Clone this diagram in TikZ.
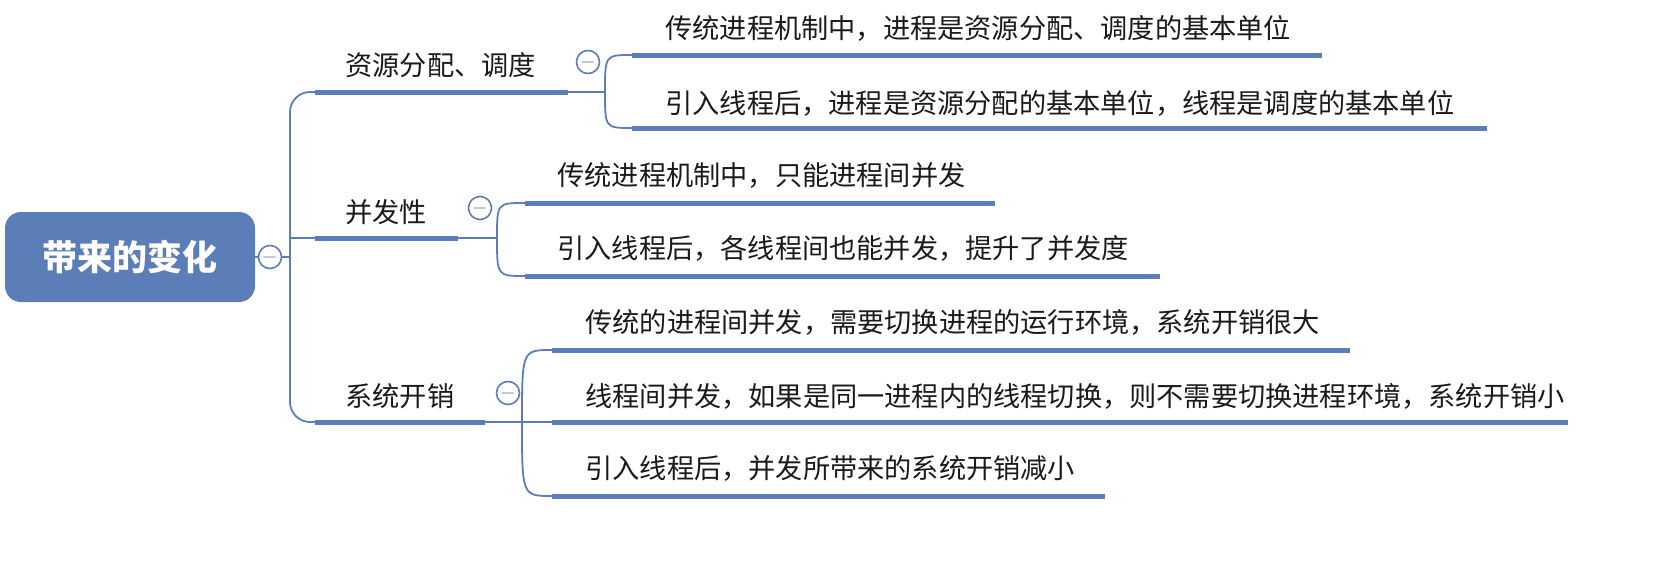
\documentclass[tikz,border=0pt]{standalone}
\usepackage{fontspec}
\setmainfont{Noto Sans CJK SC}
\definecolor{mapblue}{HTML}{5B7DB8}
\definecolor{txt}{HTML}{1A1A1A}
\begin{document}
\begin{tikzpicture}[
    x=0.5pt, y=-0.5pt,
    rootbox/.style={rectangle, rounded corners=8pt, fill=mapblue, text=white, font=\fontsize{17.5}{20}\selectfont\bfseries, minimum width=125pt, minimum height=45pt},
    fold/.style={circle, draw=mapblue, fill=white, line width=0.8pt, inner sep=0pt, minimum size=11.5pt, font=\fontsize{10}{10}\selectfont\color{mapblue}},
    bar/.style={mapblue, line width=2.5pt},
    link/.style={mapblue, line width=0.9pt},
    label/.style={anchor=west, text=txt, font=\fontsize{13.6}{15}\selectfont, inner sep=0pt}
]
\useasboundingbox (0,0) rectangle (1658,568);

% Root
\node[rootbox] (root) at (130,257) {带来的变化};
\node[fold] (f0) at (270,257) {$-$};
\draw[link] (root.east) -- (f0.west);

% Trunk
\coordinate (t0) at (290,257);
\draw[link] (f0.east) -- (t0);
\draw[link, rounded corners=10pt] (315,92) -| (t0) |- (315,422);
\draw[link] (t0) |- (315,238);

%==============================================================================
% Branch 1
%==============================================================================
\node[label] (b1) at (345,65) {资源分配、调度};
\draw[bar] (315,92) -- (568,92);
\node[fold] (f1) at (588,62) {$-$};
\coordinate (s1) at (605,92);
\draw[link] (568,92) -- (s1);
\node[label] (c11) at (665,28) {传统进程机制中，进程是资源分配、调度的基本单位};
\node[label] (c12) at (665,103) {引入线程后，进程是资源分配的基本单位，线程是调度的基本单位};
\draw[bar] (632,55) -- (1322,55);
\draw[bar] (632,128) -- (1487,128);
\draw[link] (s1) .. controls (605,55) .. (632,55);
\draw[link] (s1) .. controls (605,128) .. (632,128);

%==============================================================================
% Branch 2
%==============================================================================
\node[label] (b2) at (345,212) {并发性};
\draw[bar] (315,238) -- (458,238);
\node[fold] (f2) at (480,208) {$-$};
\coordinate (s2) at (497,238);
\draw[link] (458,238) -- (s2);
\node[label] (c21) at (557,175) {传统进程机制中，只能进程间并发};
\node[label] (c22) at (557,248) {引入线程后，各线程间也能并发，提升了并发度};
\draw[bar] (525,203) -- (995,203);
\draw[bar] (525,276) -- (1160,276);
\draw[link] (s2) .. controls (497,203) .. (525,203);
\draw[link] (s2) .. controls (497,276) .. (525,276);

%==============================================================================
% Branch 3
%==============================================================================
\node[label] (b3) at (345,396) {系统开销};
\draw[bar] (315,422) -- (485,422);
\node[fold] (f3) at (508,393) {$-$};
\coordinate (s3) at (522,422);
\draw[link] (485,422) -- (s3);
\node[label] (c31) at (585,322) {传统的进程间并发，需要切换进程的运行环境，系统开销很大};
\node[label] (c32) at (585,396) {线程间并发，如果是同一进程内的线程切换，则不需要切换进程环境，系统开销小};
\node[label] (c33) at (585,468) {引入线程后，并发所带来的系统开销减小};
\draw[bar] (552,350) -- (1350,350);
\draw[bar] (552,422) -- (1568,422);
\draw[bar] (552,496) -- (1105,496);
\draw[link] (s3) .. controls (522,350) .. (552,350);
\draw[link] (s3) -- (552,422);
\draw[link] (s3) .. controls (522,496) .. (552,496);

\end{tikzpicture}
\end{document}
